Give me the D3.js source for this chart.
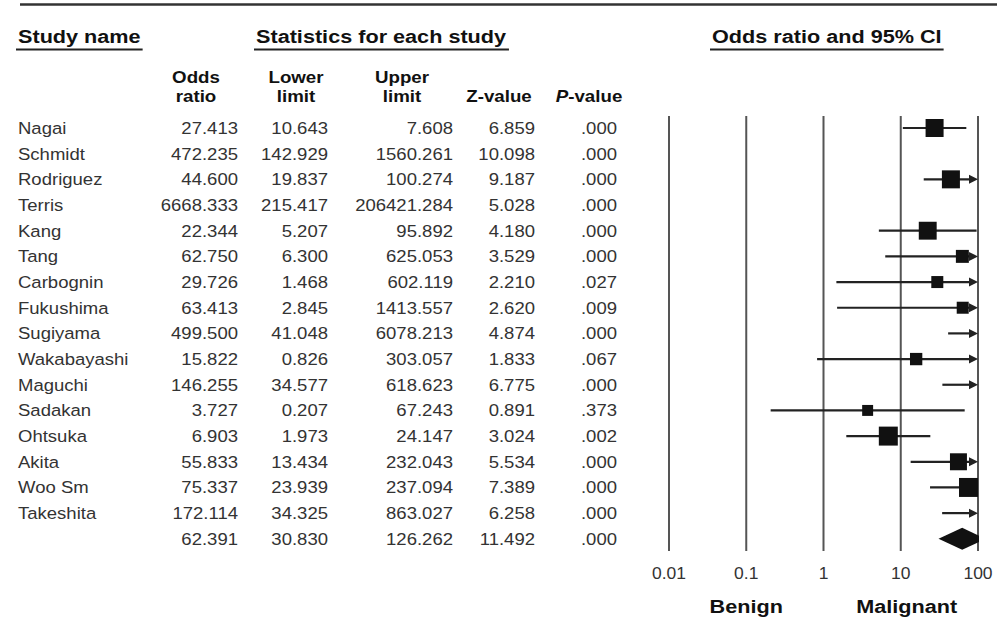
<!DOCTYPE html>
<html lang="en">
<head>
<meta charset="UTF-8">
<title>Forest plot</title>
<script src="https://cdn.jsdelivr.net/npm/d3@7"></script>
<style>
  body { margin: 0; background: #fff; }
  text { font-family: "Liberation Sans", Arial, Helvetica, sans-serif; }
</style>
</head>
<body>
<div id="chart"></div>
<script>
// study data
const studies = ["Nagai", "Schmidt", "Rodriguez", "Terris", "Kang", "Tang", "Carbognin", "Fukushima",
  "Sugiyama", "Wakabayashi", "Maguchi", "Sadakan", "Ohtsuka", "Akita", "Woo Sm", "Takeshita", ""];
const oddsRatio = [27.413, 472.235, 44.600, 6668.333, 22.344, 62.750, 29.726, 63.413,
  499.500, 15.822, 146.255, 3.727, 6.903, 55.833, 75.337, 172.114, 62.391];
const lowerLimit = [10.643, 142.929, 19.837, 215.417, 5.207, 6.300, 1.468, 2.845,
  41.048, 0.826, 34.577, 0.207, 1.973, 13.434, 23.939, 34.325, 30.830];
const upperLimit = [7.608, 1560.261, 100.274, 206421.284, 95.892, 625.053, 602.119, 1413.557,
  6078.213, 303.057, 618.623, 67.243, 24.147, 232.043, 237.094, 863.027, 126.262];
const zValue = [6.859, 10.098, 9.187, 5.028, 4.180, 3.529, 2.210, 2.620,
  4.874, 1.833, 6.775, 0.891, 3.024, 5.534, 7.389, 6.258, 11.492];
const pValue = [0.000, 0.000, 0.000, 0.000, 0.000, 0.000, 0.027, 0.009,
  0.000, 0.067, 0.000, 0.373, 0.002, 0.000, 0.000, 0.000, 0.000];
// CI ends as drawn in the plot (a few differ from the table in the figure)
const ciLowerDrawn = [10.643, 142.929, 19.837, 215.417, 5.207, 6.300, 1.468, 1.500,
  41.048, 0.826, 34.577, 0.207, 1.973, 13.434, 23.939, 34.325, 30.830];
const ciUpperDrawn = [70.608, 1560.261, 100.274, 206421.284, 95.892, 625.053, 602.119, 1413.557,
  6078.213, 303.057, 618.623, 67.243, 24.147, 232.043, 237.094, 863.027, 126.262];
// relative weight (box size)
const weight = [8.1, 5.5, 8.1, 1.2, 8.0, 4.2, 3.6, 3.6, 2.8, 3.8, 5.0, 3.0, 9.0, 7.2, 9.0, 4.2, 0];
const ticks = [0.01, 0.1, 1, 10, 100];

const W = 997, H = 626;
const fontReg = 17, fontBold = 18.5;
const sxReg = 1.09, sxBold = 1.17;
const ink = "#222";

const svg = d3.select("#chart").append("svg")
  .attr("width", W).attr("height", H);

function label(x, y, str, o = {}) {
  const t = svg.append("text")
    .attr("transform", `translate(${x},${y}) scale(${o.sx || sxReg},1)`)
    .attr("text-anchor", o.anchor || "start")
    .attr("font-size", o.size || fontReg)
    .attr("font-weight", o.bold ? "bold" : "normal")
    .attr("fill", o.fill || "#333")
    .text(str);
  return t;
}

// top rule
svg.append("line").attr("x1", 20).attr("x2", W).attr("y1", 4.5).attr("y2", 4.5)
  .attr("stroke", "#333").attr("stroke-width", 2.5);

// section headers with underline
const headers = [
  { text: "Study name", x: 18 },
  { text: "Statistics for each study", x: 256 },
  { text: "Odds ratio and 95% CI", x: 712 }
];
headers.forEach(h => {
  const t = label(h.x, 43, h.text, { bold: true, size: fontBold, sx: sxBold, fill: "#111" });
  const w = t.node().getBBox().width * sxBold;
  svg.append("line").attr("x1", h.x - 2).attr("x2", h.x + w + 2)
    .attr("y1", 49.5).attr("y2", 49.5).attr("stroke", "#222").attr("stroke-width", 2);
});

// column headers
const colRight = [238, 328, 453, 535, 617];
const colHead = [["Odds", "ratio"], ["Lower", "limit"], ["Upper", "limit"], ["", "Z-value"], ["", "P-value"]];
const colCenter = [196, 296, 402, 499, 589];
colHead.forEach((c, i) => {
  if (c[0]) label(colCenter[i], 83, c[0], { bold: true, size: 16, sx: sxBold, anchor: "middle", fill: "#111" });
  const t = svg.append("text")
    .attr("transform", `translate(${colCenter[i]},102) scale(${sxBold},1)`)
    .attr("text-anchor", "middle").attr("font-size", 16).attr("font-weight", "bold").attr("fill", "#111");
  if (i === 4) {
    t.append("tspan").attr("font-style", "italic").text("P");
    t.append("tspan").text("-value");
  } else {
    t.text(c[1]);
  }
});

// rows
const y = d3.scaleLinear().domain([0, studies.length - 1]).range([128, 538.8]);
const f3 = d3.format(".3f");
const fp = v => f3(v).replace(/^0/, "");

studies.forEach((s, i) => {
  const by = y(i) + 6;
  if (s) label(18, by, s);
  label(colRight[0], by, f3(oddsRatio[i]), { anchor: "end" });
  label(colRight[1], by, f3(lowerLimit[i]), { anchor: "end" });
  label(colRight[2], by, f3(upperLimit[i]), { anchor: "end" });
  label(colRight[3], by, f3(zValue[i]), { anchor: "end" });
  label(colRight[4], by, fp(pValue[i]), { anchor: "end" });
});

// forest plot
const x = d3.scaleLog().domain([0.01, 100]).range([669, 978]);
const size = d3.scaleSqrt().domain([0, 10]).range([0, 20]);

const plot = svg.append("g");
plot.append("g").selectAll("line").data(ticks).join("line")
  .attr("x1", d => x(d)).attr("x2", d => x(d))
  .attr("y1", 116).attr("y2", 551)
  .attr("stroke", "#555").attr("stroke-width", 2);

svg.append("defs").append("clipPath").attr("id", "clip")
  .append("rect").attr("x", 660).attr("y", 100).attr("width", 979 - 660).attr("height", 470);

const marks = plot.append("g").attr("clip-path", "url(#clip)");
const xMax = x.domain()[1];
const nStudies = studies.length - 1;

for (let i = 0; i < nStudies; i++) {
  const lo = ciLowerDrawn[i], hi = ciUpperDrawn[i], or = oddsRatio[i];
  if (lo >= xMax) continue;
  const cy = y(i);
  const x1 = x(lo), x2 = x(Math.min(hi, xMax));
  const arrow = hi > xMax;
  marks.append("line")
    .attr("x1", x1).attr("x2", arrow ? x2 - 6 : x2)
    .attr("y1", cy).attr("y2", cy)
    .attr("stroke", ink).attr("stroke-width", 2.2);
  if (arrow) {
    marks.append("path")
      .attr("d", `M${x2},${cy} L${x2 - 9},${cy - 4.5} L${x2 - 9},${cy + 4.5} Z`)
      .attr("fill", ink);
  }
  if (or < xMax) {
    const s = size(weight[i]);
    marks.append("rect")
      .attr("x", x(or) - s / 2).attr("y", cy - s / 2)
      .attr("width", s).attr("height", s)
      .attr("fill", "#111");
  }
}

// summary diamond
const k = nStudies, cyS = y(k);
marks.append("path")
  .attr("d", `M${x(lowerLimit[k])},${cyS} L${x(oddsRatio[k])},${cyS - 11} L${x(upperLimit[k])},${cyS} L${x(oddsRatio[k])},${cyS + 11} Z`)
  .attr("fill", "#111");

// tick labels
ticks.forEach(t => {
  label(x(t), 579, String(t), { anchor: "middle", size: 16.5, sx: 1.06, fill: "#333" });
});

label(x(0.1), 613, "Benign", { bold: true, size: fontBold, sx: sxBold, anchor: "middle", fill: "#111" });
label(x(10) + 6, 613, "Malignant", { bold: true, size: fontBold, sx: sxBold, anchor: "middle", fill: "#111" });
</script>
</body>
</html>
